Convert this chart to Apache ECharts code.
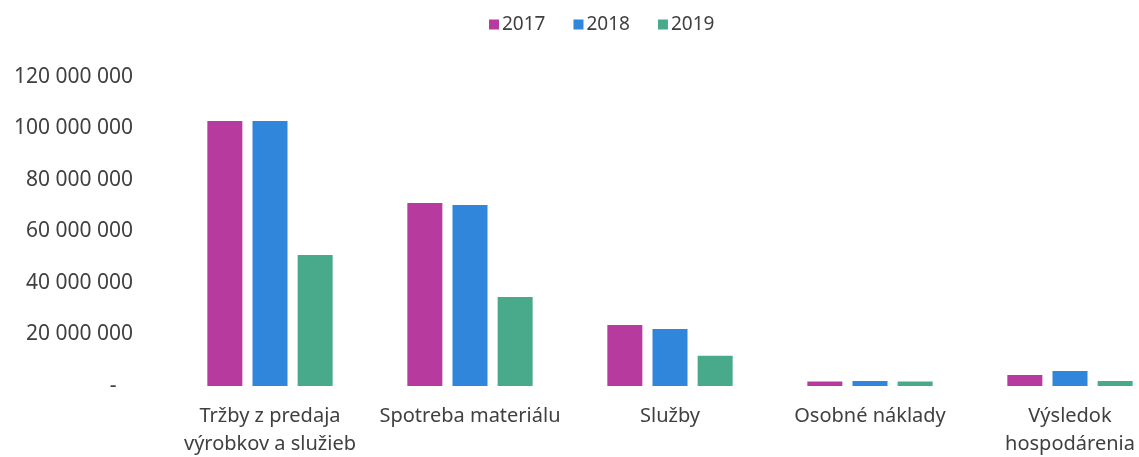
<!DOCTYPE html>
<html>
<head>
<meta charset="utf-8">
<script src="https://cdn.jsdelivr.net/npm/echarts@6/dist/echarts.min.js"></script>
<style>
    html, body { margin: 0; padding: 0; background: #fff; }
    #main { width: 1139px; height: 457px; }
</style>
</head>
<body>
<div id="main"></div>
<script>
    let categories = ['Tržby z predaja\nvýrobkov a služieb', 'Spotreba materiálu', 'Služby',
        'Osobné náklady', 'Výsledok\nhospodárenia'];
    let years = ['2017', '2018', '2019'];
    let values2017 = [102900000, 71100000, 23700000, 1700000, 4300000];
    let values2018 = [102900000, 70300000, 22100000, 1900000, 5800000];
    let values2019 = [50900000, 34600000, 11700000, 1700000, 1900000];
    let colors = ['#b73a9e', '#2f86da', '#48a98b'];

    let chart = echarts.init(document.getElementById('main'));

    // 0 zobrazit ako pomlcku, inak medzera ako oddelovac tisicov
    function fmt(v) {
        if (v === 0) return '-   ';
        return String(v).replace(/\B(?=(\d{3})+(?!\d))/g, ' ');
    }

    let font = 'Noto Sans';
    let textColor = '#404040';

    let option = {
        animation: false,
        color: colors,
        textStyle: { fontFamily: font },
        legend: {
            data: years,
            top: 10,
            left: 484,
            itemWidth: 10,
            itemHeight: 10,
            itemGap: 28,
            icon: 'rect',
            textStyle: { color: textColor, fontSize: 19, fontFamily: font, padding: [0, 0, 0, -2] }
        },
        grid: {
            left: 170,
            width: 1000,
            top: 77,
            bottom: 71,
            containLabel: false,
            outerBoundsMode: 'none'
        },
        xAxis: {
            type: 'category',
            data: categories,
            axisLine: { show: false },
            axisTick: { show: false },
            axisLabel: {
                color: textColor,
                fontSize: 20,
                fontFamily: font,
                margin: 16,
                lineHeight: 28,
                interval: 0
            }
        },
        yAxis: {
            type: 'value',
            min: 0,
            max: 120000000,
            interval: 20000000,
            axisLine: { show: false },
            axisTick: { show: false },
            splitLine: { show: false },
            axisLabel: {
                color: textColor,
                fontSize: 21,
                fontFamily: font,
                margin: 37,
                formatter: fmt
            }
        },
        series: [
            { name: years[0], type: 'bar', data: values2017, barWidth: 35, barGap: '29%' },
            { name: years[1], type: 'bar', data: values2018, barWidth: 35, barGap: '29%' },
            { name: years[2], type: 'bar', data: values2019, barWidth: 35, barGap: '29%' }
        ]
    };

    chart.setOption(option);
</script>
</body>
</html>
